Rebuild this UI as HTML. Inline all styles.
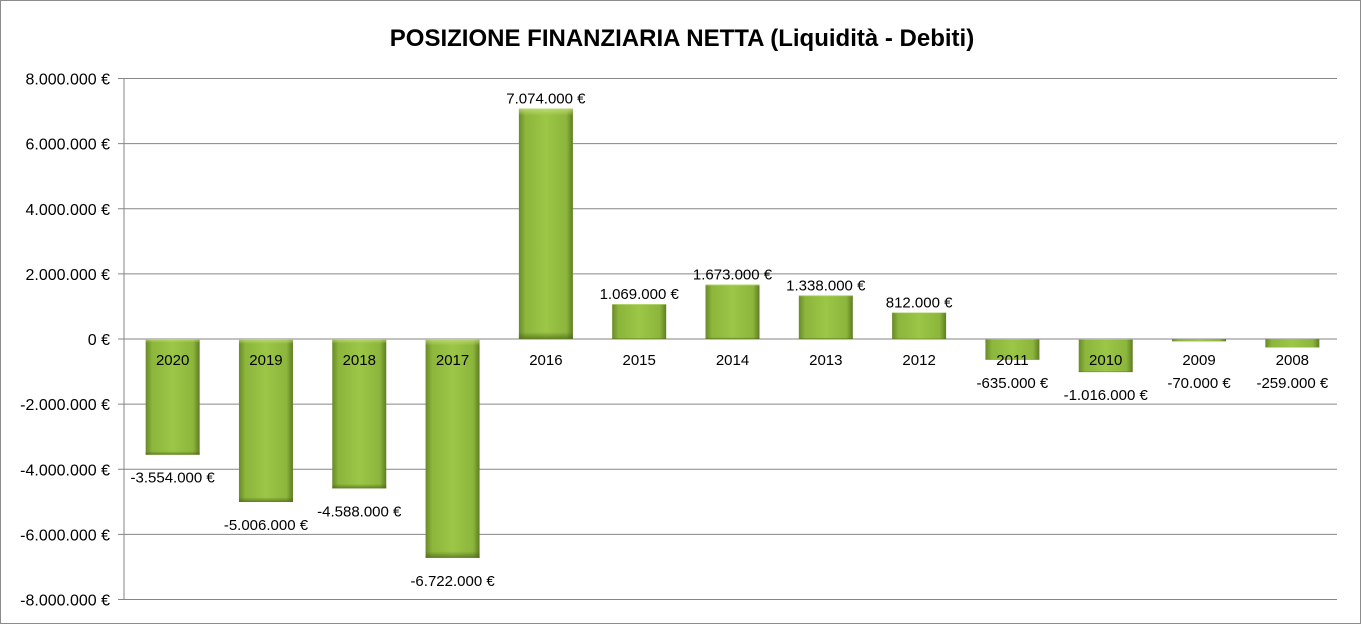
<!DOCTYPE html>
<html><head><meta charset="utf-8"><style>
html,body{margin:0;padding:0;background:#fff;}
svg{display:block;font-family:"Liberation Sans",sans-serif;}
</style></head><body>
<svg id="chart" width="1361" height="624" viewBox="0 0 1361 624">
<defs>
<linearGradient id="gh" x1="0" x2="1" y1="0" y2="0">
<stop offset="0" stop-color="#6a8a28"/><stop offset="0.12" stop-color="#8cb63c"/>
<stop offset="0.5" stop-color="#9cc646"/><stop offset="0.88" stop-color="#8cb63c"/><stop offset="1" stop-color="#5f7d22"/>
</linearGradient>
<linearGradient id="gv" x1="0" x2="0" y1="0" y2="1">
<stop offset="0" stop-color="#c4e07a" stop-opacity="0.8"/><stop offset="0.03" stop-color="#c4e07a" stop-opacity="0"/>
<stop offset="0.97" stop-color="#4a6318" stop-opacity="0"/><stop offset="1" stop-color="#4a6318" stop-opacity="0.7"/>
</linearGradient>
</defs>
<rect x="0.5" y="0.5" width="1360" height="623" fill="#fff" stroke="#8c8c8c"/>
<text x="682" y="46" text-anchor="middle" font-size="24" font-weight="bold" fill="#000">POSIZIONE FINANZIARIA NETTA (Liquidità - Debiti)</text>
<g id="grid"></g><g id="bars"></g><g id="labels"></g>
</svg>
<script>
const categories=["2020","2019","2018","2017","2016","2015","2014","2013","2012","2011","2010","2009","2008"];
const values=[-3554000,-5006000,-4588000,-6722000,7074000,1069000,1673000,1338000,812000,-635000,-1016000,-70000,-259000];
const valueLabels=["-3.554.000 €","-5.006.000 €","-4.588.000 €","-6.722.000 €","7.074.000 €","1.069.000 €","1.673.000 €","1.338.000 €","812.000 €","-635.000 €","-1.016.000 €","-70.000 €","-259.000 €"];
const tickValues=[8000000,6000000,4000000,2000000,0,-2000000,-4000000,-6000000,-8000000];
const tickLabels=["8.000.000 €","6.000.000 €","4.000.000 €","2.000.000 €","0 €","-2.000.000 €","-4.000.000 €","-6.000.000 €","-8.000.000 €"];
const NS="http://www.w3.org/2000/svg";
const X0=124,X1=1337,Y0=339,PPU=(599-78)/16000000;
const y=v=>Y0-v*PPU;
const band=(X1-X0)/categories.length;
const xc=i=>X0+band*(i+0.5)+2;
function mk(t,a,p){const e=document.createElementNS(NS,t);for(const k in a)e.setAttribute(k,a[k]);p.appendChild(e);return e;}
const grid=document.getElementById('grid'),bars=document.getElementById('bars'),labels=document.getElementById('labels');
tickValues.forEach((v,i)=>{
 const l=mk('line',{x1:X0-6,x2:X1,y1:y(v),y2:y(v),stroke:'#868686','stroke-width':1},grid);
 
 
 const t=mk('text',{x:110,y:y(v)+6,'text-anchor':'end','font-size':16,fill:'#000'},grid);
 t.textContent=tickLabels[i];
 
 
});
const ax=mk('line',{x1:X0,x2:X0,y1:y(8000000),y2:y(-8000000),stroke:'#868686'},grid);


const bw=54;
values.forEach((v,i)=>{
 const top=Math.min(y(v),Y0),h=Math.abs(y(v)-Y0),x=xc(i)-bw/2;
 const g=mk('g',{},bars);
 
 
 mk('rect',{x:x,y:top,width:bw,height:h,fill:'url(#gh)'},g);
 mk('rect',{x:x,y:top,width:bw,height:h,fill:'url(#gv)'},g);
 const c=mk('text',{x:xc(i),y:365,'text-anchor':'middle','font-size':15,fill:'#000'},labels);
 c.textContent=categories[i];
 
 
 const vl=mk('text',{x:xc(i),y:v>=0?y(v)-5:Math.max(y(v)+28,388),'text-anchor':'middle','font-size':15,fill:'#000'},labels);
 vl.textContent=valueLabels[i];
 
 
});
</script>
</body></html>
